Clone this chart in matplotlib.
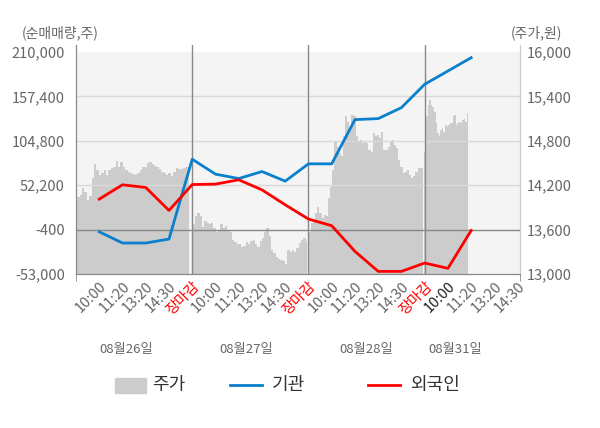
import numpy as np
import matplotlib
matplotlib.use('Agg')
import matplotlib.pyplot as plt
from matplotlib.lines import Line2D
from matplotlib.patches import Rectangle
from matplotlib.ticker import FuncFormatter

plt.rcParams['font.family'] = ['Noto Sans CJK KR', 'DejaVu Sans']

# x tick labels (positions 1..19)
tick_labels = ['10:00', '11:20', '13:20', '14:30', '장마감',
               '10:00', '11:20', '13:20', '14:30', '장마감',
               '10:00', '11:20', '13:20', '14:30', '장마감',
               '10:00', '11:20', '13:20', '14:30']
dates = ['08월26일', '08월27일', '08월28일', '08월31일']

# net buying (shares), points at positions 1..17
inst = [-3000, -16300, -16300, -11600, 83000, 65300, 60100, 68400, 57000,
        77500, 77500, 129900, 131100, 144100, 171800, 187500, 203300]
foreign = [35700, 52700, 49500, 22300, 53000, 53500, 58600, 46700, 29000,
           12100, 4200, -26200, -49900, -49900, -40000, -46300, -1400]

# price (won), one list per day
price_d1 = [13960, 14040, 14070, 14160, 14110, 14000, 14050, 14300, 14480, 14410,
            14340, 14360, 14410, 14340, 14410, 14430, 14450, 14530, 14450, 14520,
            14450, 14400, 14380, 14360, 14350, 14340, 14360, 14410, 14450, 14440,
            14500, 14520, 14480, 14460, 14450, 14420, 14380, 14360, 14340, 14370,
            14320, 14380, 14430, 14420, 14420, 14430, 14450, 14450]
price_d2 = [13710, 13670, 13780, 13830, 13780, 13640, 13710, 13690, 13670, 13690,
            13620, 13570, 13600, 13670, 13620, 13650, 13600, 13570, 13460, 13430,
            13410, 13400, 13370, 13380, 13430, 13410, 13440, 13460, 13410, 13360,
            13440, 13490, 13570, 13620, 13510, 13330, 13280, 13230, 13200, 13190,
            13170, 13130, 13330, 13300, 13330, 13300, 13350, 13420, 13460, 13490,
            13440]
price_d3 = [13550, 13570, 13690, 13710, 13820, 13910, 13820, 13760, 13800, 13780,
            14030, 14180, 14410, 14790, 14720, 14630, 14590, 14860, 15130, 15060,
            14950, 15150, 15130, 14860, 14790, 14810, 14770, 14790, 14770, 14680,
            14650, 14900, 14860, 14880, 14840, 14920, 14680, 14680, 14720, 14790,
            14810, 14750, 14700, 14540, 14450, 14360, 14380, 14410, 14340, 14300,
            14320, 14380, 14430, 14430, 14430]
price_d4 = [14650, 14700, 15130, 15290, 15350, 15290, 15260, 15190, 15040, 14900,
            14860, 14950, 14970, 14920, 15020, 14990, 15020, 15040, 15040, 15130,
            15150, 15020, 15040, 15060, 15040, 15080, 15100, 15060, 15180]

left_ticks = [-53000, -400, 52200, 104800, 157400, 210000]
right_ticks = [13000, 13600, 14200, 14800, 15400, 16000]

fig = plt.figure(figsize=(6, 4.28), dpi=100)
ax = fig.add_axes([76 / 600, 1 - 274 / 428, 444 / 600, 229 / 428])
ax2 = ax.twinx()
ax.set_zorder(2)
ax.patch.set_visible(False)
ax2.set_zorder(1)

ymin, ymax = -53000, 218300
ax.set_ylim(ymin, ymax)
ax2.set_ylim(13000, 13000 + (ymax - ymin) / (210000 - ymin) * 3000)
ax.set_xlim(0, 19.1)

# background band
ax2.axhspan(13000, 16000, color='#f4f4f4', zorder=0, lw=0)

spans = [(0, 4.85), (4.97, 9.93), (9.97, 14.92), (14.96, 16.85)]
for (a, b), p in zip(spans, [price_d1, price_d2, price_d3, price_d4]):
    xs = np.linspace(a, b, len(p))
    ax2.fill_between(xs, p, 13000, step='mid', color='#cccccc', lw=0, zorder=1)

# grid
for v in left_ticks[1:-1]:
    ax.axhline(v, color='#888888' if v == -400 else '#d9d9d9', lw=1, zorder=1)
for d in [5, 10, 15]:
    ax.axvline(d, color='#888888', lw=1, zorder=1)

pos = np.arange(1, len(inst) + 1)
ax.plot(pos, inst, color='#0a7fcc', lw=2, zorder=3)
ax.plot(pos, foreign, color='#ff0000', lw=2, zorder=3)

for a in (ax, ax2):
    a.spines['top'].set_visible(False)
    a.spines['left'].set_color('#888888')
    a.spines['bottom'].set_color('#888888')
    a.spines['right'].set_color('#cccccc')

ax.set_yticks(left_ticks)
ax.yaxis.set_major_formatter(FuncFormatter(lambda v, _: f'{int(v):,}'))
ax2.set_yticks(right_ticks)
ax2.yaxis.set_major_formatter(FuncFormatter(lambda v, _: f'{int(v):,}'))
ax.tick_params(axis='y', length=0, labelsize=10.5, labelcolor='#666666', pad=8)
ax2.tick_params(axis='y', length=0, labelsize=10.5, labelcolor='#666666', pad=5)

ax.set_xticks(np.arange(1, 20))
ax.set_xticklabels(tick_labels, rotation=45, ha='right', va='top',
                   rotation_mode='anchor')
ax.tick_params(axis='x', length=0, labelsize=10.5, pad=4)
for i, t in enumerate(ax.get_xticklabels()):
    if tick_labels[i] == '장마감':
        t.set_color('#ff0000')
    elif i == 15:
        t.set_color('#222222')
    else:
        t.set_color('#666666')
ax.set_xticks([0, 5, 10, 15, 19.1], minor=True)
ax.tick_params(axis='x', which='minor', length=5, color='#888888')

for x, d in zip([2.15, 7.3, 12.5, 16.3], dates):
    ax.text(x, -0.33, d, transform=ax.get_xaxis_transform(), ha='center',
            va='center', fontsize=9.5, color='#666666')

fig.text(22 / 600, 1 - 33 / 428, '(순매매량,주)', fontsize=10, color='#666666',
         ha='left', va='center')
fig.text(562 / 600, 1 - 33 / 428, '(주가,원)', fontsize=10, color='#666666',
         ha='right', va='center')

# legend
ly = 1 - 385 / 428
fig.patches.append(Rectangle((115 / 600, 1 - 393 / 428), 31 / 600, 15 / 428,
                             transform=fig.transFigure, color='#cccccc'))
fig.lines.append(Line2D([230 / 600, 262 / 600], [ly, ly], color='#0a7fcc', lw=2,
                        transform=fig.transFigure))
fig.lines.append(Line2D([368 / 600, 400 / 600], [ly, ly], color='#ff0000', lw=2,
                        transform=fig.transFigure))
for x, s in zip([152, 272, 410], ['주가', '기관', '외국인']):
    fig.text(x / 600, ly, s, fontsize=13, color='#333333', ha='left', va='center')

fig.savefig('out.png', dpi=100, facecolor='white')
